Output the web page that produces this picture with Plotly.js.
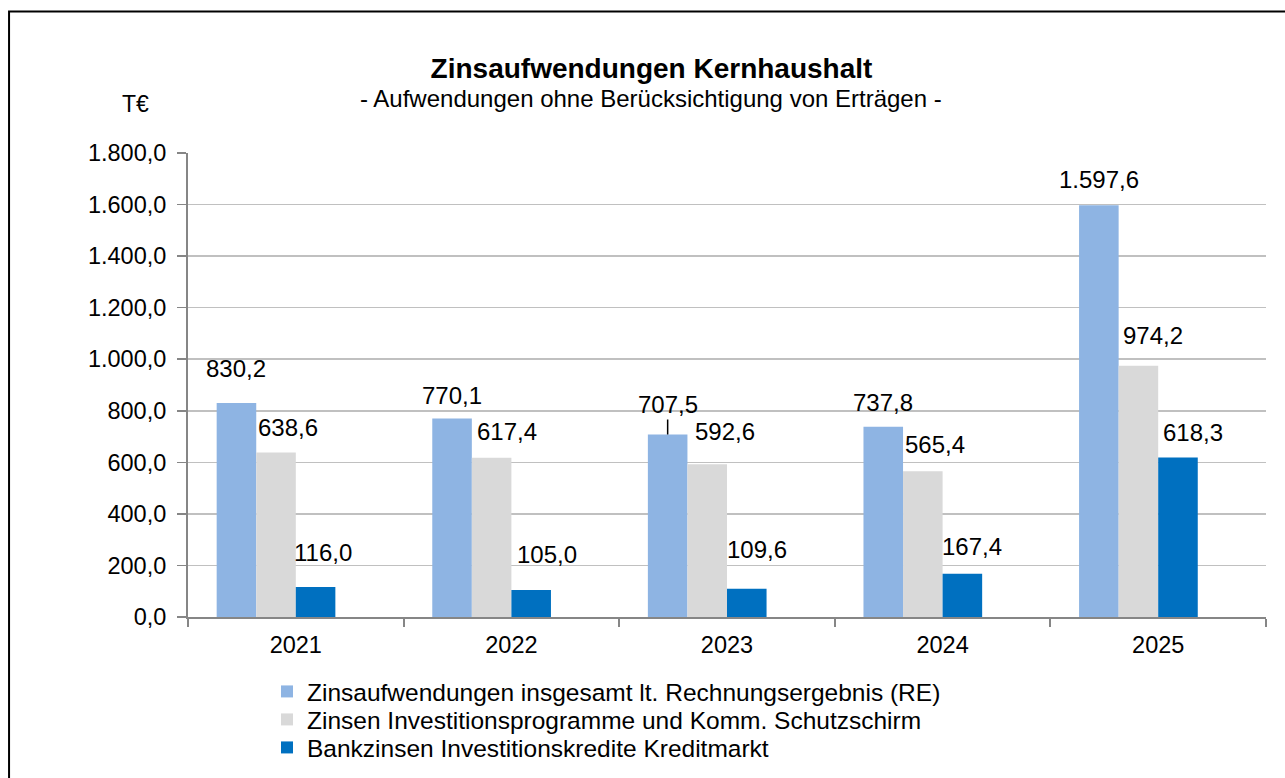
<!DOCTYPE html>
<html>
<head>
<meta charset="utf-8">
<script src="https://cdn.plot.ly/plotly-3.0.1.min.js"></script>
<style>html,body{margin:0;padding:0;background:#fff;}#chart{width:1285px;height:778px;}</style>
</head>
<body>
<div id="chart"></div>
<script>
// ---- data ----
var years = ['2021', '2022', '2023', '2024', '2025'];
var seriesNames = [
  'Zinsaufwendungen insgesamt lt. Rechnungsergebnis (RE)',
  'Zinsen Investitionsprogramme und Komm. Schutzschirm',
  'Bankzinsen Investitionskredite Kreditmarkt'
];
var zinsGesamt = [830.2, 770.1, 707.5, 737.8, 1597.6];
var zinsProgramme = [638.6, 617.4, 592.6, 565.4, 974.2];
var bankZinsen = [116.0, 105.0, 109.6, 167.4, 618.3];
var yTicks = [0, 200, 400, 600, 800, 1000, 1200, 1400, 1600, 1800];

// ---- style ----
var FONT = 'Liberation Sans, Arial, sans-serif';
var colors = ['#8EB4E3', '#D9D9D9', '#0070C0'];
var barW = 0.1835;
var offsets = [-2 * barW, -barW, 0];
// pixel nudges of the data labels from their bar tops: [dx, dy above]
var labelNudge = [
  [[0, 34], [0, 23], [0, 30], [0, 24], [0, 26]],
  [[12, 25], [15, 26], [18, 33], [12, 27], [15, 30]],
  [[7, 35], [16, 35], [10, 39], [10, 27], [15, 25]]
];
var leaderLabel = {series: 0, year: '2023'};

function fmtDE(v) {
  var s = v.toFixed(1).split('.');
  var intPart = s[0].replace(/\B(?=(\d{3})+(?!\d))/g, '.');
  return intPart + ',' + s[1];
}

var allSeries = [zinsGesamt, zinsProgramme, bankZinsen];
var legendIds = ['legend', 'legend2', 'legend3'];
var traces = allSeries.map(function (vals, k) {
  return {
    type: 'bar',
    name: seriesNames[k],
    x: years,
    y: vals,
    offset: offsets[k],
    width: barW,
    marker: {color: colors[k], line: {width: 0}},
    legend: legendIds[k],
    hoverinfo: 'x+y'
  };
});

var annotations = [];
allSeries.forEach(function (vals, k) {
  vals.forEach(function (v, i) {
    var nd = labelNudge[k][i];
    var a = {
      x: i + offsets[k] + barW / 2,
      y: v,
      xref: 'x', yref: 'y',
      text: fmtDE(v),
      font: {family: FONT, size: 24, color: '#000'},
      xanchor: 'center', yanchor: 'middle'
    };
    if (k === leaderLabel.series && years[i] === leaderLabel.year) {
      a.showarrow = true;
      a.arrowhead = 0;
      a.arrowwidth = 1.5;
      a.arrowcolor = '#000';
      a.ax = nd[0];
      a.ay = -nd[1];
      a.standoff = 0;
    } else {
      a.showarrow = false;
      a.xshift = nd[0];
      a.yshift = nd[1];
    }
    annotations.push(a);
  });
});

annotations.push({
  xref: 'paper', yref: 'paper', x: 0.4295, y: 1.1165,
  text: '- Aufwendungen ohne Berücksichtigung von Erträgen -',
  showarrow: false, xanchor: 'center', yanchor: 'middle',
  font: {family: FONT, size: 24, color: '#000'}
});
annotations.push({
  xref: 'paper', yref: 'paper', x: -0.049, y: 1.106,
  text: 'T€',
  showarrow: false, xanchor: 'center', yanchor: 'middle',
  font: {family: FONT, size: 23, color: '#000'}
});

function legendAt(py) {
  return {
    x: 0.0733, xref: 'paper', xanchor: 'left',
    y: 1 - py / 778, yref: 'container', yanchor: 'top',
    bgcolor: 'rgba(0,0,0,0)', borderwidth: 0,
    font: {family: FONT, size: 24.5, color: '#000'},
    itemclick: false, itemdoubleclick: false
  };
}

var layout = {
  width: 1285, height: 778,
  paper_bgcolor: '#fff', plot_bgcolor: '#fff',
  separators: ',.',
  margin: {l: 188, r: 19, t: 153, b: 161},
  font: {family: FONT, size: 23.5, color: '#000'},
  title: {
    text: '<b>Zinsaufwendungen Kernhaushalt</b>',
    x: 0.507, xanchor: 'center', xref: 'container',
    y: 1 - 68 / 778, yanchor: 'middle', yref: 'container',
    font: {family: FONT, size: 28, color: '#000'}
  },
  barmode: 'overlay',
  xaxis: {
    type: 'category',
    tickson: 'boundaries',
    ticks: 'outside', ticklen: 8, tickwidth: 2, tickcolor: '#868686',
    ticklabelstandoff: 6,
    showline: true, linecolor: '#868686', linewidth: 2,
    showgrid: false, zeroline: false,
    tickfont: {family: FONT, size: 23.5, color: '#000'},
    range: [-0.5, 4.5],
    fixedrange: true
  },
  yaxis: {
    range: [0, 1800],
    tickvals: yTicks,
    tickformat: ',.1f',
    ticks: 'outside', ticklen: 9, tickwidth: 1.5, tickcolor: '#868686',
    ticklabelstandoff: 6,
    showline: true, linecolor: '#868686', linewidth: 2,
    showgrid: true, gridcolor: '#C0C0C0', gridwidth: 1.5,
    zeroline: false,
    tickfont: {family: FONT, size: 23.5, color: '#000'},
    fixedrange: true
  },
  showlegend: true,
  legend: legendAt(669),
  legend2: legendAt(697),
  legend3: legendAt(725),
  annotations: annotations,
  shapes: [{
    type: 'rect', xref: 'paper', yref: 'paper',
    x0: -0.166, x1: 1.3, y0: -0.6, y1: 1.305,
    line: {color: '#000', width: 2}, fillcolor: 'rgba(0,0,0,0)', layer: 'below'
  }]
};

Plotly.newPlot('chart', traces, layout, {displayModeBar: false, responsive: false, staticPlot: true});
</script>
</body>
</html>
